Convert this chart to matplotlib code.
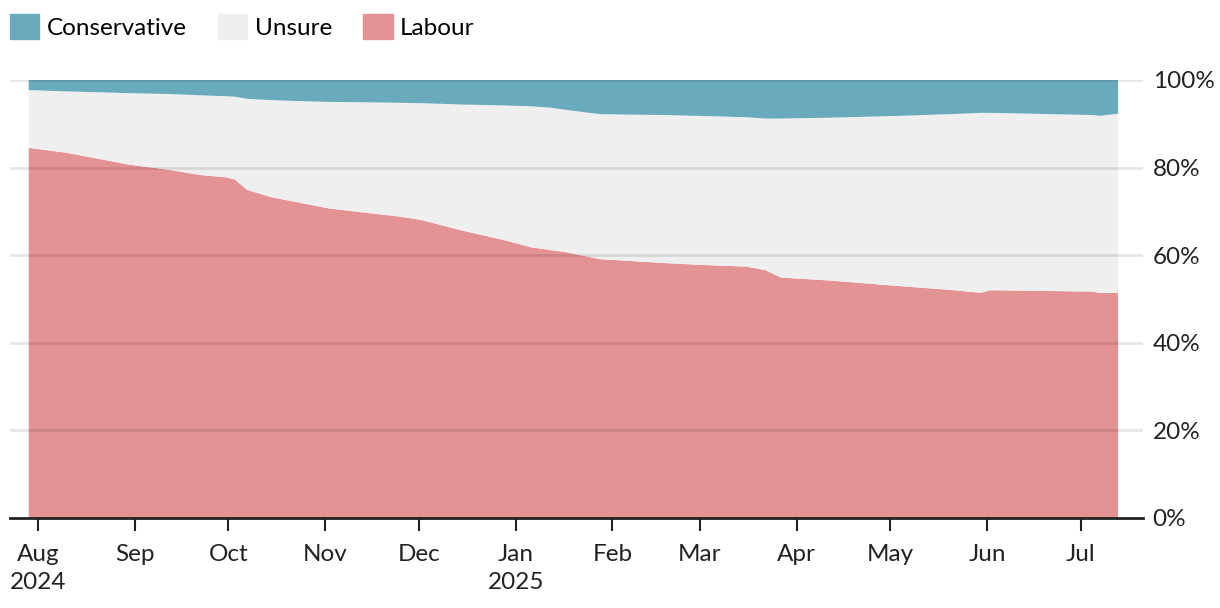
import numpy as np
import matplotlib
matplotlib.use('Agg')
import matplotlib.pyplot as plt
from matplotlib.patches import Patch
import pandas as pd

plt.rcParams['font.family'] = ['Lato', 'DejaVu Sans']

dates = pd.to_datetime([
    '2024-07-29', '2024-08-10', '2024-08-30', '2024-09-12', '2024-09-22',
    '2024-09-30', '2024-10-03', '2024-10-07', '2024-10-15', '2024-10-23',
    '2024-11-02', '2024-11-15', '2024-11-25', '2024-12-02', '2024-12-15',
    '2024-12-28', '2025-01-06', '2025-01-12', '2025-01-17', '2025-01-28',
    '2025-02-18', '2025-03-01', '2025-03-16', '2025-03-22', '2025-03-27',
    '2025-04-12', '2025-05-03', '2025-05-20', '2025-05-30', '2025-06-02',
    '2025-07-05', '2025-07-07', '2025-07-13'])

# shares in %
labour = np.array([84.5, 83.4, 80.7, 79.5, 78.3, 77.8, 77.3, 74.9, 73.2, 72.1,
                   70.7, 69.6, 68.8, 68.0, 65.6, 63.5, 61.8, 61.2, 60.7, 59.1,
                   58.2, 57.8, 57.4, 56.6, 54.9, 54.2, 53.0, 52.1, 51.4, 52.0,
                   51.7, 51.4, 51.4])
conservative = np.array([2.3, 2.6, 3.0, 3.2, 3.5, 3.7, 3.8, 4.3, 4.6, 4.8,
                         5.0, 5.1, 5.2, 5.3, 5.6, 5.8, 6.0, 6.3, 6.8, 7.8,
                         8.0, 8.2, 8.5, 8.8, 8.8, 8.6, 8.2, 7.8, 7.5, 7.5,
                         8.0, 8.2, 7.7])
unsure = 100 - labour - conservative

c_con = '#6aaabd'
c_uns = '#efefef'
c_lab = '#e49394'
fs = 17.5

fig = plt.figure(figsize=(12.2, 6.08), dpi=100)
ax = fig.add_axes([10 / 1220, 1 - 518 / 608, 1133 / 1220, 438 / 608])

ax.stackplot(dates, labour, unsure, conservative,
             colors=[c_lab, c_uns, c_con], linewidth=0)

ax.set_xlim(pd.Timestamp('2024-07-23'), pd.Timestamp('2025-07-21'))
ax.set_ylim(0, 100)

for v in [20, 40, 60, 80, 100]:
    ax.axhline(v, color='black', alpha=0.1, lw=2, zorder=5)

ax.yaxis.tick_right()
ax.set_yticks([0, 20, 40, 60, 80, 100])
ax.set_yticklabels(['0%', '20%', '40%', '60%', '80%', '100%'])
ax.tick_params(axis='y', length=0, pad=7, labelsize=fs, labelcolor='#222222')

months = pd.date_range('2024-08-01', '2025-07-01', freq='MS')
labels = []
for m in months:
    if m.month == 8 or m.month == 1:
        labels.append(m.strftime('%b') + '\n' + m.strftime('%Y'))
    else:
        labels.append(m.strftime('%b'))
ax.set_xticks(months)
ax.set_xticklabels(labels, ha='center', linespacing=1.4)
ax.tick_params(axis='x', length=9, width=1.5, color='#222222', pad=10,
               labelsize=fs, labelcolor='#222222')

for s in ['top', 'left', 'right']:
    ax.spines[s].set_visible(False)
ax.spines['bottom'].set_color('#222222')
ax.spines['bottom'].set_linewidth(2)
ax.spines['bottom'].set_zorder(6)

handles = [Patch(color=c_con, label='Conservative'),
           Patch(color=c_uns, label='Unsure'),
           Patch(color=c_lab, label='Labour')]
fig.legend(handles=handles, loc='upper left', bbox_to_anchor=(10 / 1220, 1 - 14 / 608),
           ncol=3, frameon=False, fontsize=fs, handlelength=1.2, handleheight=1.2,
           handletextpad=0.3, columnspacing=1.3, borderaxespad=0, borderpad=0)

fig.savefig('out.png', dpi=100)
